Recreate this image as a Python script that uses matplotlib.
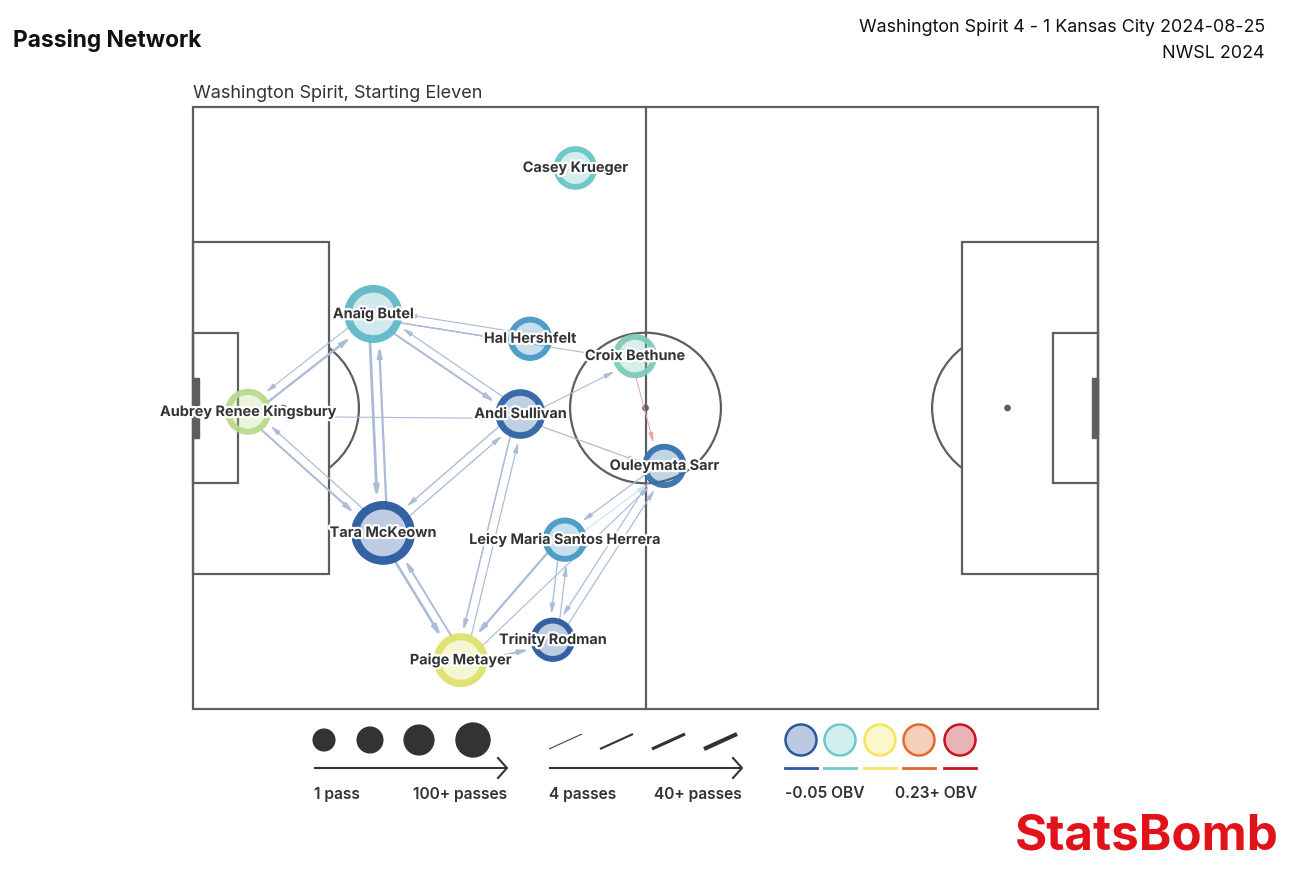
import numpy as np
import matplotlib
matplotlib.use("Agg")
import matplotlib.pyplot as plt
from matplotlib.patches import Rectangle, Circle, Arc, Wedge, FancyArrowPatch
from matplotlib.colors import LinearSegmentedColormap, to_rgb
import matplotlib.patheffects as pe

plt.rcParams['font.family'] = ['Inter', 'DejaVu Sans']

# ---- data -------------------------------------------------------------
players = ["Casey Krueger", "Anaïg Butel", "Hal Hershfelt", "Croix Bethune",
           "Aubrey Renee Kingsbury", "Andi Sullivan", "Ouleymata Sarr",
           "Tara McKeown", "Leicy Maria Santos Herrera", "Trinity Rodman",
           "Paige Metayer"]
pos_x = [50.7, 23.9, 44.7, 58.6, 7.3, 43.4, 62.5, 25.2, 49.3, 47.7, 35.5]
pos_y = [8.1, 27.5, 30.8, 33.1, 40.5, 40.8, 47.7, 56.6, 57.5, 70.8, 73.5]
passes = [10, 58, 12, 12, 18, 30, 12, 77, 12, 12, 44]
obv = [0.017, 0.009, -0.016, 0.028, 0.060, -0.044, -0.036, -0.050, -0.014, -0.050, 0.080]

# passer, receiver, number of passes, pass obv
edge_from = [4, 1, 4, 7, 4, 1, 7, 1, 5, 1, 1, 2, 1, 5, 5, 5, 7, 5, 10, 5, 7, 10, 8, 10, 10, 8, 9, 9, 6, 6, 8, 3]
edge_to   = [1, 4, 7, 4, 5, 7, 1, 5, 1, 2, 2, 1, 3, 3, 6, 7, 5, 10, 5, 10, 10, 7, 10, 9, 6, 9, 8, 6, 9, 8, 6, 6]
edge_n    = [18, 5, 16, 6, 5, 24, 18, 15, 6, 6, 5, 5, 5, 5, 6, 8, 7, 6, 6, 6, 22, 14, 18, 15, 5, 7, 6, 6, 6, 6, 5, 4]
edge_obv  = [-0.05] * 30 + [0.02, 0.22]

obv_min, obv_max = -0.05, 0.23
legend_passes = [1, 33, 66, 100]
legend_lines = [4, 16, 28, 40]
legend_obv = [-0.05, 0.02, 0.09, 0.16, 0.23]

# ---- helpers ----------------------------------------------------------
cmap = LinearSegmentedColormap.from_list(
    "obv", [(0, "#2a58a0"), (0.12, "#4497c5"), (0.25, "#6ec8c6"),
            (0.5, "#f3e65c"), (0.75, "#e2692c"), (1, "#c8141e")])


def obv_color(v):
    t = (min(max(v, obv_min), obv_max) - obv_min) / (obv_max - obv_min)
    return cmap(t)


def lighten(c, k):
    c = np.array(to_rgb(c))
    return tuple(c * k + (1 - k))


def node_r(n):
    return 2.7 + 0.02 * n


def edge_lw(n):
    return 0.75 + (min(n, 40) - 4) / 36 * 2.25


fig = plt.figure(figsize=(12.92, 8.91), dpi=100)
fig.patch.set_facecolor("white")

# overlay in pixel coordinates for titles and legend
lax = fig.add_axes([0, 0, 1, 1])
lax.set_xlim(0, 1292)
lax.set_ylim(891, 0)
lax.axis("off")

ax = fig.add_axes([0.13771, 0.18737, 0.72382, 0.70943])
ax.set_xlim(-2, 122)
ax.set_ylim(82, -2)
ax.axis("off")

# ---- pitch ------------------------------------------------------------
lc = "#5e5e5e"
plw = 1.6
ax.add_patch(Rectangle((0, 0), 120, 80, fill=False, ec=lc, lw=plw, zorder=1))
ax.plot([60, 60], [0, 80], color=lc, lw=plw, zorder=1)
ax.add_patch(Circle((60, 40), 10, fill=False, ec=lc, lw=plw, zorder=1))
ax.add_patch(Circle((60, 40), 0.35, color=lc, zorder=1))
# left half
ax.add_patch(Rectangle((0, 18), 18, 44, fill=False, ec=lc, lw=plw, zorder=1))
ax.add_patch(Rectangle((0, 30), 6, 20, fill=False, ec=lc, lw=plw, zorder=1))
ax.add_patch(Rectangle((0, 36), 0.8, 8, color=lc, zorder=1))
ax.add_patch(Circle((12, 40), 0.35, color=lc, zorder=1))
ax.add_patch(Arc((12, 40), 20, 20, theta1=-53.13, theta2=53.13, ec=lc, lw=plw, zorder=1))
# right half
ax.add_patch(Rectangle((102, 18), 18, 44, fill=False, ec=lc, lw=plw, zorder=1))
ax.add_patch(Rectangle((114, 30), 6, 20, fill=False, ec=lc, lw=plw, zorder=1))
ax.add_patch(Rectangle((119.2, 36), 0.8, 8, color=lc, zorder=1))
ax.add_patch(Circle((108, 40), 0.35, color=lc, zorder=1))
ax.add_patch(Arc((108, 40), 20, 20, theta1=126.87, theta2=233.13, ec=lc, lw=plw, zorder=1))

# ---- edges ------------------------------------------------------------
for a, b, n, v in zip(edge_from, edge_to, edge_n, edge_obv):
    x0, y0, x1, y1 = pos_x[a], pos_y[a], pos_x[b], pos_y[b]
    d = np.hypot(x1 - x0, y1 - y0)
    ux, uy = (x1 - x0) / d, (y1 - y0) / d
    nx, ny = -uy, ux
    off = 0.6
    sx = x0 + ux * node_r(passes[a]) * 0.75 + nx * off
    sy = y0 + uy * node_r(passes[a]) * 0.75 + ny * off
    ex = x1 - ux * (node_r(passes[b]) + 0.4) + nx * off
    ey = y1 - uy * (node_r(passes[b]) + 0.4) + ny * off
    col = lighten(obv_color(v), 0.40)
    ax.add_patch(FancyArrowPatch((sx, sy), (ex, ey),
                                 arrowstyle="-|>,head_length=0.6,head_width=0.14",
                                 mutation_scale=10, color=col, lw=edge_lw(n),
                                 shrinkA=0, shrinkB=0, zorder=2))

# ---- nodes ------------------------------------------------------------
for name, x, y, n, v in zip(players, pos_x, pos_y, passes, obv):
    r = node_r(n)
    w = 0.27 * r
    c = obv_color(v)
    ax.add_patch(Circle((x, y), r - w, fc=(*to_rgb(c), 0.3), ec="none", zorder=3))
    ax.add_patch(Wedge((x, y), r, 0, 360, width=w, fc=c, ec="none", alpha=0.95, zorder=3))
    ax.text(x, y, name, ha="center", va="center", fontsize=10.4, fontweight="bold",
            color="#333333", zorder=4,
            path_effects=[pe.withStroke(linewidth=3.2, foreground="white")])

# ---- titles -----------------------------------------------------------
lax.text(13, 41, "Passing Network", ha="left", va="center", fontsize=16.4,
         fontweight="bold", color="#111111")
lax.text(1265, 27, "Washington Spirit 4 - 1 Kansas City 2024-08-25", ha="right",
         va="center", fontsize=12.9, color="#111111")
lax.text(1265, 53, "NWSL 2024", ha="right", va="center", fontsize=12.9, color="#111111")
lax.text(193, 93, "Washington Spirit, Starting Eleven", ha="left", va="center",
         fontsize=13, color="#333333")

# ---- legend -----------------------------------------------------------
dark = "#333333"


def legend_arrow(x0, x1, y):
    lax.plot([x0, x1], [y, y], color=dark, lw=1.5, solid_capstyle="butt")
    lax.plot([x1 - 9, x1, x1 - 9], [y - 10, y, y + 10], color=dark, lw=1.5)


for cx, n in zip([324, 370, 419, 473], legend_passes):
    lax.add_patch(Circle((cx, 740), 10.8 + 0.062 * n, color=dark))
legend_arrow(314, 507, 768)
lab = dict(va="center", fontsize=11.2, fontweight="semibold", color=dark)
lax.text(314, 794, "1 pass", ha="left", **lab)
lax.text(507, 794, "100+ passes", ha="right", **lab)

for lx, n in zip([549, 600, 652, 704], legend_lines):
    lax.plot([lx, lx + 33], [749, 734], color=dark, lw=edge_lw(n), solid_capstyle="butt")
legend_arrow(549, 742, 768)
lax.text(549, 794, "4 passes", ha="left", **lab)
lax.text(742, 794, "40+ passes", ha="right", **lab)

for cx, v in zip([801, 840, 880, 919, 960], legend_obv):
    c = obv_color(v)
    lax.add_patch(Circle((cx, 740), 15.5, fc=lighten(c, 0.32), ec=c, lw=1.8))
    lax.plot([cx - 16, cx + 16], [768, 768], color=c, lw=2)
lax.text(785, 794, "-0.05 OBV", ha="left", **lab)
lax.text(977, 794, "0.23+ OBV", ha="right", **lab)

lax.text(1279, 837, "StatsBomb", ha="right", va="center", fontsize=35.5,
         fontweight="bold", color="#e2121b")

fig.savefig("out.png", dpi=100, facecolor="white")
